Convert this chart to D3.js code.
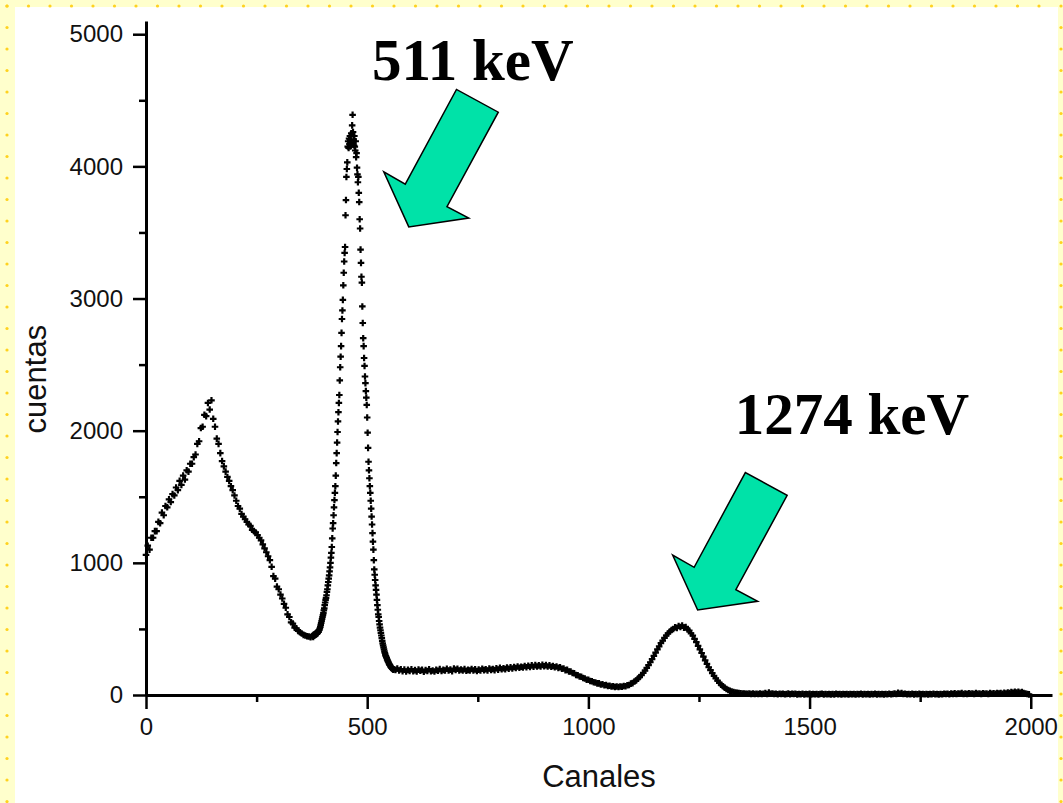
<!DOCTYPE html>
<html lang="es">
<head>
<meta charset="utf-8">
<title>Espectro Na-22</title>
<script src="https://cdn.jsdelivr.net/npm/d3@7"></script>
<style>
    body { margin: 0; background: #fff; }
    .axis path, .axis line { stroke: #000; }
    .axis text { font-family: "Liberation Sans", Arial, sans-serif; font-size: 24px; fill: #111; }
    .title { font-family: "Liberation Sans", Arial, sans-serif; font-size: 31px; fill: #111; }
    .peak { font-family: "Liberation Serif", "Times New Roman", serif; font-weight: bold; font-size: 59px; fill: #000; }
</style>
</head>
<body>
<div id="chart"></div>
<script>

// counts per channel
// channels 0..372, every 4th channel
var comptonStart = 0, comptonStep = 4
var compton = [
    1060,1130,1100,1190,1190,1240,1240,1310,1300,1380,
    1360,1430,1420,1480,1460,1520,1510,1570,1550,1620,
    1590,1660,1630,1700,1690,1750,1750,1800,1820,1900,
    1920,2020,2030,2120,2110,2210,2160,2230,2090,2030,
    1940,1900,1830,1770,1730,1690,1650,1620,1580,1550,
    1510,1470,1430,1410,1370,1350,1330,1310,1290,1280,
    1250,1240,1230,1210,1190,1170,1140,1110,1080,1050,
    1020,970,900,880,820,800,760,730,690,660,
    610,590,550,540,510,505,485,475,465,455,
    450,445,443,438
]

// channels 376..559, every channel (511 keV peak)
var peakStart = 376, peakStep = 1
var peak511 = [
    445,450,440,455,448,460,452,465,458,470,
    462,475,468,480,478,490,495,505,515,530,
    545,560,575,590,605,620,640,655,680,700,
    720,735,755,780,800,830,855,880,905,935,
    965,1000,1040,1075,1120,1185,1260,1300,1360,1420,
    1475,1530,1580,1660,1755,1830,1910,1990,2070,2140,
    2210,2270,2380,2480,2560,2640,2740,2845,2910,2990,
    3100,3195,3280,3345,3390,3630,3745,3920,3980,4030,
    4150,4190,4140,4210,4170,4230,4150,4200,4250,4180,
    4310,4390,4260,4200,4160,4230,4150,4120,4190,4070,
    4100,3990,3940,3880,3920,3800,3730,3600,3530,3370,
    3270,3165,3120,2940,2815,2700,2640,2550,2490,2410,
    2360,2300,2250,2195,2100,1985,1870,1765,1700,1640,
    1580,1530,1470,1410,1350,1290,1225,1160,1100,1020,
    950,910,870,830,795,760,720,680,645,610,
    590,560,535,510,490,470,450,430,410,390,
    375,360,345,330,318,305,295,288,280,270,
    262,255,248,240,232,228,222,215,210,205,
    203,198,195,192
]

// channels 560..1996, every 4th channel (plateau, 1274 keV peak, tail)
var tailStart = 560, tailStep = 4
var tail = [
    195,190,200,185,195,180,192,178,190,182,
    195,180,188,178,192,183,190,176,188,182,
    195,180,186,178,190,184,196,182,190,185,
    198,186,192,180,200,190,198,185,193,186,
    196,183,190,185,197,186,194,182,192,186,
    198,188,195,186,200,190,197,188,202,192,
    205,195,203,196,208,198,210,200,212,204,
    215,206,214,208,220,210,222,212,224,214,
    226,215,224,216,228,218,226,216,224,214,
    220,210,216,205,210,198,200,188,190,178,
    178,166,165,152,150,140,138,128,125,116,
    115,106,104,96,95,88,88,80,82,74,
    76,68,70,64,66,60,64,60,64,62,
    68,66,74,76,86,90,102,110,124,136,
    150,168,185,205,226,248,272,296,320,345,
    368,392,412,432,450,466,480,492,500,512,
    508,522,515,525,510,515,495,488,466,450,
    425,400,372,345,318,290,262,236,210,188,
    166,145,126,108,92,78,66,56,46,38,
    32,26,22,19,16,14,13,11,12,10,
    9,12,8,11,7,10,8,12,7,9,
    14,8,18,9,11,7,10,6,9,7,
    10,6,8,11,6,9,7,10,5,8,
    6,9,5,8,6,9,5,7,6,8,
    5,7,9,5,7,6,8,5,7,5,
    9,6,7,5,8,6,7,5,8,6,
    7,5,8,6,9,5,7,6,8,5,
    7,6,9,5,7,6,8,5,7,6,
    9,6,8,12,7,16,9,14,8,10,
    6,8,6,9,5,8,6,9,5,7,
    6,8,5,7,6,9,6,7,5,8,
    6,9,7,10,6,12,8,13,7,12,
    9,14,8,12,7,13,9,12,8,14,
    9,11,8,13,9,12,8,14,10,13,
    9,15,11,14,10,16,12,18,14,22,
    16,24,18,25,17,22,14,12,8,5
]

var xTicks = [0, 500, 1000, 1500, 2000]
var xMinor = [250, 750, 1250, 1750]
var yTicks = [0, 1000, 2000, 3000, 4000, 5000]
var yMinor = [500, 1500, 2500, 3500, 4500]

var xLabel = "Canales"
var yLabel = "cuentas"

// annotations: label position and arrow tip, in data units
var notes = [
    {text: "511 keV", lx: 511, ly: 4652, tx: 594, ty: 3542},
    {text: "1274 keV", lx: 1331, ly: 1974, tx: 1247, ty: 643}
]

var width = 1063
var height = 803

var points = []
function addSeries(values, start, step){
    values.forEach(function(v, i){ points.push({ch: start + i * step, n: v}) })
}
addSeries(compton, comptonStart, comptonStep)
addSeries(peak511, peakStart, peakStep)
addSeries(tail, tailStart, tailStep)

var svg = d3.select("#chart")
  .append("svg")
    .attr("width", width)
    .attr("height", height)

// slide frame: pale yellow border with dots
svg.append("rect").attr("width", width).attr("height", height).attr("fill", "#FFFFCC")
svg.append("rect").attr("x", 15).attr("y", 7).attr("width", 1043).attr("height", height - 7).attr("fill", "#fff")

var dots = svg.append("g").attr("fill", "#FFD21F")
d3.range(7, 1058, 21.5).forEach(function(x){
    dots.append("circle").attr("cx", x).attr("cy", 6).attr("r", 1.6)
})
d3.range(6, height, 21.5).forEach(function(y){
    dots.append("circle").attr("cx", 7).attr("cy", y).attr("r", 1.6)
    dots.append("circle").attr("cx", 1061).attr("cy", y).attr("r", 1.6)
})

var x = d3.scaleLinear().domain([0, 2048]).range([146, 1052])
var y = d3.scaleLinear().domain([0, 5100]).range([695, 21])

// minor ticks
svg.append("g")
    .attr("class", "axis")
    .attr("transform", "translate(0,695)")
    .call(d3.axisBottom(x).tickValues(xMinor).tickSize(7).tickSizeOuter(0).tickFormat(""))
    .call(g => g.select(".domain").remove())
    .selectAll("line").attr("stroke-width", 2.5)
svg.append("g")
    .attr("class", "axis")
    .attr("transform", "translate(146,0)")
    .call(d3.axisLeft(y).tickValues(yMinor).tickSize(7).tickSizeOuter(0).tickFormat(""))
    .call(g => g.select(".domain").remove())
    .selectAll("line").attr("stroke-width", 2.5)

// major axes
var xAxis = svg.append("g")
    .attr("class", "axis")
    .attr("transform", "translate(0,695)")
    .call(d3.axisBottom(x).tickValues(xTicks).tickSize(14).tickSizeOuter(0).tickPadding(9).tickFormat(d3.format("d")))
xAxis.select(".domain").attr("stroke-width", 3)
xAxis.selectAll("line").attr("stroke-width", 2.5)

var yAxis = svg.append("g")
    .attr("class", "axis")
    .attr("transform", "translate(146,0)")
    .call(d3.axisLeft(y).tickValues(yTicks).tickSize(13).tickSizeOuter(0).tickPadding(10).tickFormat(d3.format("d")))
yAxis.select(".domain").attr("stroke-width", 3)
yAxis.selectAll("line").attr("stroke-width", 2.5)

svg.append("text")
    .attr("class", "title")
    .attr("x", (x.range()[0] + x.range()[1]) / 2)
    .attr("y", 787)
    .attr("text-anchor", "middle")
    .text(xLabel)

svg.append("text")
    .attr("class", "title")
    .attr("transform", "translate(46," + (y(2390)) + ") rotate(-90)")
    .attr("text-anchor", "middle")
    .text(yLabel)

// the spectrum, drawn as small crosses
var cross = d3.symbol().type(d3.symbolCross).size(24)()
svg.append("g")
  .selectAll("path")
  .data(points)
  .enter()
  .append("path")
    .attr("d", cross)
    .attr("transform", d => "translate(" + x(d.ch) + "," + y(d.n) + ")")
    .attr("fill", "#000")

// arrow shape, offsets from its tip in pixels
var arrowShape = [[0,0],[-25,-55],[-3.5,-42.7],[47.7,-137.5],[89.5,-114.7],[38.2,-20.3],[60,-8.8]]

notes.forEach(function(d){
    var tx = x(d.tx), ty = y(d.ty)
    svg.append("polygon")
        .attr("points", arrowShape.map(p => (tx + p[0]) + "," + (ty + p[1])).join(" "))
        .attr("fill", "#00E2A8")
        .attr("stroke", "#000")
        .attr("stroke-width", 1.5)
        .attr("stroke-linejoin", "miter")

    svg.append("text")
        .attr("class", "peak")
        .attr("x", x(d.lx))
        .attr("y", y(d.ly))
        .text(d.text)
})

</script>
</body>
</html>
